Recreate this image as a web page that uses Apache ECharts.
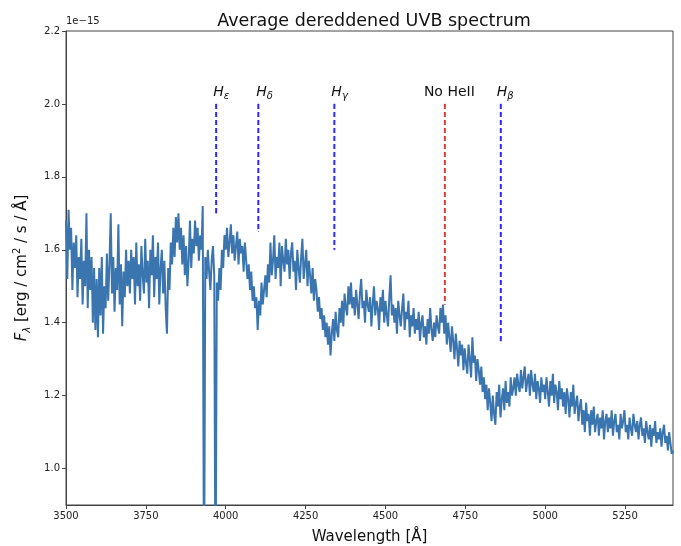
<!DOCTYPE html>
<html>
<head>
<meta charset="utf-8">
<script src="https://cdn.jsdelivr.net/npm/echarts@6/dist/echarts.min.js"></script>
<style>
  html, body { margin: 0; padding: 0; background: #fff; }
  #chart { width: 681px; height: 546px; }
</style>
</head>
<body>
<div id="chart"></div>
<script>
// Wavelength grid of the spectrum (Å)
const waveStart = 3500;
const waveStep = 4;

// Dereddened flux, in units of 1e-15 erg / cm^2 / s / Å (one row per 100 Å)
const flux = [
  1.68,1.52,1.71,1.60,1.66,1.49,1.62,1.55,1.64,1.47,1.58,1.52,1.63,1.45,1.57,1.50,1.70,1.44,1.60,1.49,1.58,1.40,1.55,1.38,1.52,
  1.36,1.55,1.42,1.58,1.37,1.50,1.44,1.59,1.46,1.56,1.70,1.48,1.58,1.43,1.55,1.49,1.67,1.45,1.56,1.39,1.54,1.47,1.60,1.50,1.57,
  1.48,1.60,1.52,1.58,1.45,1.62,1.50,1.56,1.46,1.61,1.53,1.48,1.63,1.51,1.57,1.44,1.60,1.53,1.64,1.47,1.58,1.52,1.62,1.45,1.55,
  1.60,1.48,1.57,1.44,1.37,1.55,1.49,1.62,1.56,1.66,1.58,1.69,1.62,1.70,1.60,1.66,1.56,1.64,1.53,1.61,1.50,1.57,1.68,1.55,1.63,
  1.59,1.68,1.61,1.66,1.57,1.64,1.60,1.72,0.60,1.58,1.52,1.60,1.54,1.49,1.57,1.61,1.53,0.60,1.51,1.46,1.55,1.49,1.60,1.55,1.64,
  1.60,1.66,1.58,1.62,1.67,1.59,1.64,1.57,1.61,1.65,1.56,1.63,1.59,1.61,1.54,1.62,1.57,1.52,1.56,1.49,1.54,1.46,1.50,1.44,1.47,
  1.38,1.46,1.42,1.51,1.45,1.49,1.53,1.47,1.56,1.51,1.62,1.53,1.57,1.64,1.52,1.58,1.55,1.62,1.50,1.61,1.57,1.54,1.63,1.56,1.60,
  1.52,1.59,1.62,1.54,1.57,1.49,1.60,1.55,1.51,1.58,1.63,1.52,1.56,1.60,1.50,1.57,1.53,1.48,1.55,1.46,1.52,1.49,1.43,1.47,1.41,
  1.44,1.38,1.42,1.36,1.40,1.34,1.39,1.31,1.37,1.41,1.35,1.43,1.38,1.36,1.44,1.40,1.46,1.39,1.48,1.44,1.42,1.50,1.45,1.51,1.44,
  1.47,1.42,1.49,1.45,1.41,1.48,1.52,1.44,1.46,1.40,1.49,1.45,1.43,1.47,1.39,1.45,1.50,1.42,1.46,1.44,1.38,1.47,1.43,1.49,1.40,
  1.46,1.42,1.39,1.47,1.53,1.42,1.45,1.40,1.44,1.37,1.46,1.42,1.39,1.44,1.48,1.38,1.43,1.41,1.46,1.36,1.42,1.39,1.44,1.37,1.41,
  1.38,1.43,1.35,1.40,1.42,1.36,1.39,1.34,1.41,1.37,1.44,1.38,1.35,1.40,1.36,1.42,1.39,1.37,1.44,1.40,1.45,1.37,1.42,1.34,1.40,
  1.36,1.32,1.39,1.35,1.30,1.37,1.33,1.28,1.35,1.31,1.34,1.27,1.33,1.29,1.26,1.34,1.30,1.25,1.36,1.29,1.31,1.24,1.30,1.27,1.23,
  1.28,1.21,1.25,1.19,1.23,1.16,1.22,1.18,1.13,1.20,1.15,1.12,1.21,1.17,1.23,1.14,1.19,1.22,1.16,1.24,1.18,1.21,1.17,1.25,1.20,
  1.22,1.25,1.20,1.26,1.23,1.21,1.27,1.22,1.25,1.28,1.21,1.24,1.26,1.20,1.27,1.23,1.21,1.26,1.19,1.24,1.22,1.18,1.25,1.21,1.23,
  1.19,1.25,1.21,1.17,1.24,1.20,1.26,1.18,1.23,1.21,1.16,1.24,1.19,1.22,1.17,1.21,1.15,1.22,1.19,1.14,1.21,1.17,1.23,1.15,1.18,
  1.20,1.13,1.17,1.19,1.12,1.16,1.10,1.18,1.13,1.15,1.09,1.16,1.12,1.17,1.10,1.13,1.15,1.09,1.14,1.11,1.16,1.08,1.13,1.15,1.10,
  1.14,1.11,1.16,1.09,1.13,1.15,1.10,1.12,1.08,1.15,1.11,1.13,1.16,1.10,1.12,1.08,1.14,1.11,1.09,1.15,1.12,1.10,1.13,1.08,1.12,
  1.14,1.09,1.11,1.07,1.13,1.10,1.08,1.12,1.06,1.11,1.09,1.13,1.07,1.10,1.08,1.11,1.06,1.10,1.12,1.07,1.09,1.05,1.10,1.07,1.04,
  1.05
];

// Line identifications
const lineLabels = ['H_ε', 'H_δ', 'H_γ', 'No HeII', 'H_β'];
const lineWaves = [3970, 4102, 4340, 4686, 4861];
const lineTops = [2.0, 2.0, 2.0, 2.0, 2.0];
const lineBottoms = [1.70, 1.65, 1.60, 1.45, 1.35];
const lineColors = ['#2b2bff', '#2b2bff', '#2b2bff', '#f03a3a', '#2b2bff'];
const labelShift = [-3, -2, -3, -21, -4];

// Axis ticks
const xTicks = [3500, 3750, 4000, 4250, 4500, 4750, 5000, 5250];
const yTicks = [1.0, 1.2, 1.4, 1.6, 1.8, 2.0, 2.2];

const FONT = 'DejaVu Sans';
const spectrum = flux.map((f, i) => [waveStart + i * waveStep, f]);

function labelText(s) {
  const k = s.indexOf('_');
  if (k < 0) return '{n|' + s + '}';
  return '{h|' + s.slice(0, k) + '}{s|' + s.slice(k + 1) + '}';
}

const markerSeries = lineWaves.map((w, i) => ({
  type: 'line',
  silent: true,
  symbol: 'circle',
  symbolSize: 1,
  showSymbol: true,
  itemStyle: { color: lineColors[i] },
  lineStyle: { color: lineColors[i], width: 2, type: [5, 3] },
  data: [
    {
      value: [w, lineTops[i]],
      label: {
        show: true,
        position: 'top',
        distance: 2,
        align: 'left',
        offset: [labelShift[i], 0],
        formatter: labelText(lineLabels[i]),
        rich: {
          h: { fontFamily: FONT, fontSize: 14, fontStyle: 'italic', color: '#111', lineHeight: 18, verticalAlign: 'middle' },
          s: { fontFamily: FONT, fontSize: 10, fontStyle: 'italic', color: '#111', lineHeight: 10, verticalAlign: 'bottom' },
          n: { fontFamily: FONT, fontSize: 14, color: '#111', lineHeight: 18 }
        }
      }
    },
    [w, lineBottoms[i]]
  ]
}));

const chart = echarts.init(document.getElementById('chart'), null, { renderer: 'canvas' });
chart.setOption({
  animation: false,
  backgroundColor: '#fff',
  title: {
    text: 'Average dereddened UVB spectrum',
    left: 369, top: 7, textAlign: 'center',
    textStyle: { fontFamily: FONT, fontSize: 17.5, fontWeight: 'normal', color: '#111' }
  },
  graphic: [{
    type: 'text', left: 66, top: 16,
    style: { text: '1e\u221215', fontFamily: FONT, fontSize: 10, fill: '#222' }
  }],
  grid: {
    left: 66, right: 8, top: 31, bottom: 41,
    containLabel: false, outerBoundsMode: 'none',
    show: true, borderColor: '#444', borderWidth: 1, backgroundColor: 'transparent'
  },
  xAxis: {
    type: 'value', min: 3500, max: 5400,
    name: 'Wavelength [Å]', nameLocation: 'middle', nameGap: 25,
    nameTextStyle: { fontFamily: FONT, fontSize: 15, color: '#111' },
    axisLine: { show: true, lineStyle: { color: '#444', width: 1 } },
    axisTick: { show: true, length: 4, lineStyle: { color: '#444' }, customValues: xTicks },
    axisLabel: { fontFamily: FONT, fontSize: 10, color: '#222', margin: 6, customValues: xTicks,
      formatter: v => String(v) },
    splitLine: { show: false }
  },
  yAxis: {
    type: 'value', min: 0.9, max: 2.2,
    name: '{f|F}{s|λ}{n| [erg / cm}{p|2}{n| / s / Å]}',
    nameLocation: 'middle', nameGap: 34, nameRotate: 90,
    nameTextStyle: {
      fontFamily: FONT, fontSize: 15, color: '#111',
      rich: {
        f: { fontFamily: FONT, fontSize: 15, fontStyle: 'italic', color: '#111', lineHeight: 20, verticalAlign: 'middle' },
        s: { fontFamily: FONT, fontSize: 10, fontStyle: 'italic', color: '#111', lineHeight: 10, verticalAlign: 'bottom' },
        n: { fontFamily: FONT, fontSize: 15, color: '#111', lineHeight: 20, verticalAlign: 'middle' },
        p: { fontFamily: FONT, fontSize: 10, color: '#111', lineHeight: 10, verticalAlign: 'top' }
      }
    },
    axisLine: { show: true, lineStyle: { color: '#444', width: 1 } },
    axisTick: { show: true, length: 4, lineStyle: { color: '#444' }, customValues: yTicks },
    axisLabel: { fontFamily: FONT, fontSize: 10, color: '#222', margin: 6, customValues: yTicks,
      formatter: v => v.toFixed(1) },
    splitLine: { show: false }
  },
  series: [{
    type: 'line',
    data: spectrum,
    showSymbol: false,
    symbol: 'none',
    clip: true,
    sampling: null,
    lineStyle: { color: '#3a75b0', width: 2 },
    z: 2
  }].concat(markerSeries)
});
</script>
</body>
</html>
